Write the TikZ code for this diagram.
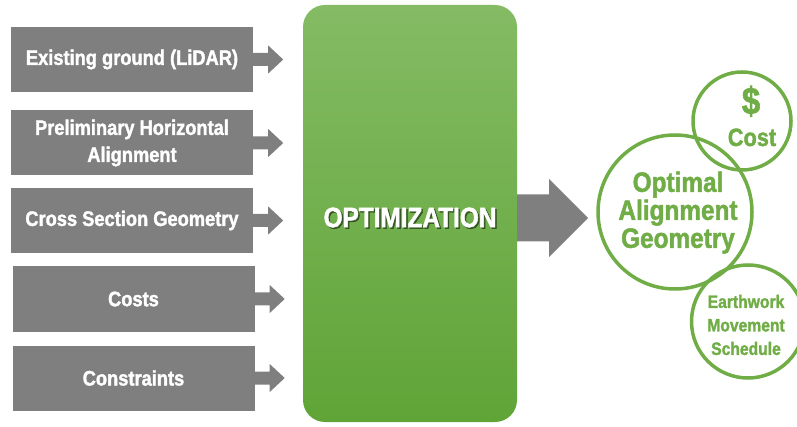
\documentclass[tikz,border=0pt]{standalone}
\usepackage{fontspec}
\setmainfont{Liberation Sans}[FakeStretch=0.87, BoldFeatures={FakeBold=1.6}]
\usetikzlibrary{calc}
\definecolor{boxgray}{HTML}{7F7F7F}
\definecolor{circgreen}{HTML}{70AD47}
\definecolor{optTop}{HTML}{84BB64}
\definecolor{optBot}{HTML}{60A437}
\begin{document}
\begin{tikzpicture}[x=1pt,y=-1pt,
  inbox/.style={fill=boxgray, minimum width=242pt, minimum height=65pt, inner sep=0pt,
    text=white, align=center, font=\bfseries\fontsize{21}{27}\selectfont},
  ringnode/.style={circle, draw=circgreen, line width=3.5pt, inner sep=0pt},
  ringtext/.style={text=circgreen, align=center, inner sep=0pt},
  smallarrow/.style={fill=boxgray},
]
\useasboundingbox (0,0) rectangle (797,427);
\clip (0,0) rectangle (797,427);

% input boxes
\node[inbox] (b1) at (132,59.5) {Existing ground (LiDAR)};
\node[inbox] (b2) at (132,143) {Preliminary Horizontal\\Alignment};
\node[inbox] (b3) at (132,220.5) {Cross Section Geometry};
\node[inbox] (b4) at (133.5,299) {Costs};
\node[inbox] (b5) at (133.5,378) {Constraints};

% small arrows
\foreach \b in {b1,b2,b3,b4,b5}
  \fill[smallarrow] (\b.east) ++(0,-6.5) -- ++(15,0) -- ++(0,-7.5) -- ++(15,14)
     -- ++(-15,14) -- ++(0,-7.5) -- ++(-15,0) -- cycle;

% optimization block
\node[rounded corners=22pt, top color=optTop, bottom color=optBot,
      minimum width=214pt, minimum height=417pt, inner sep=0pt] (opt) at (410,213.5) {};
\node[text=black, opacity=0.45, font=\bfseries\fontsize{28}{28}\selectfont, inner sep=0pt]
   (optshadow) at ($(opt.center)+(1.5,5.5)$) {OPTIMIZATION};
\node[text=white, font=\bfseries\fontsize{28}{28}\selectfont, inner sep=0pt]
   (opttxt) at ($(opt.center)+(0,4)$) {OPTIMIZATION};

% big arrow
\fill[boxgray] ($(opt.east)+(0,4.5)$) ++(0,-23.5) -- ++(32,0) -- ++(0,-15.5) -- ++(39,39)
   -- ++(-39,39) -- ++(0,-15.5) -- ++(-32,0) -- cycle;

% result circles
\node[ringnode, minimum size=98pt] (cost) at (742,121) {};
\node[ringnode, minimum size=154pt] (geo) at (675,212) {};
\node[ringnode, minimum size=113pt] (earth) at (748,321.5) {};

\node[ringtext, font=\bfseries\fontsize{38}{38}\selectfont, anchor=base]
   (dollar) at ($(cost.center)+(9,-7)$) {\$};
\node[ringtext, font=\bfseries\fontsize{25}{25}\selectfont, anchor=base]
   (costtxt) at ($(cost.center)+(10,25)$) {Cost};
\node[ringtext, font=\bfseries\fontsize{28}{28}\selectfont]
   (geotxt) at (678,212.6) {Optimal\\Alignment\\Geometry};
\node[ringtext, font=\bfseries\fontsize{18}{23.5}\selectfont]
   (earthtxt) at ($(earth.center)+(-2,3.5)$) {Earthwork\\Movement\\Schedule};
\end{tikzpicture}
\end{document}
